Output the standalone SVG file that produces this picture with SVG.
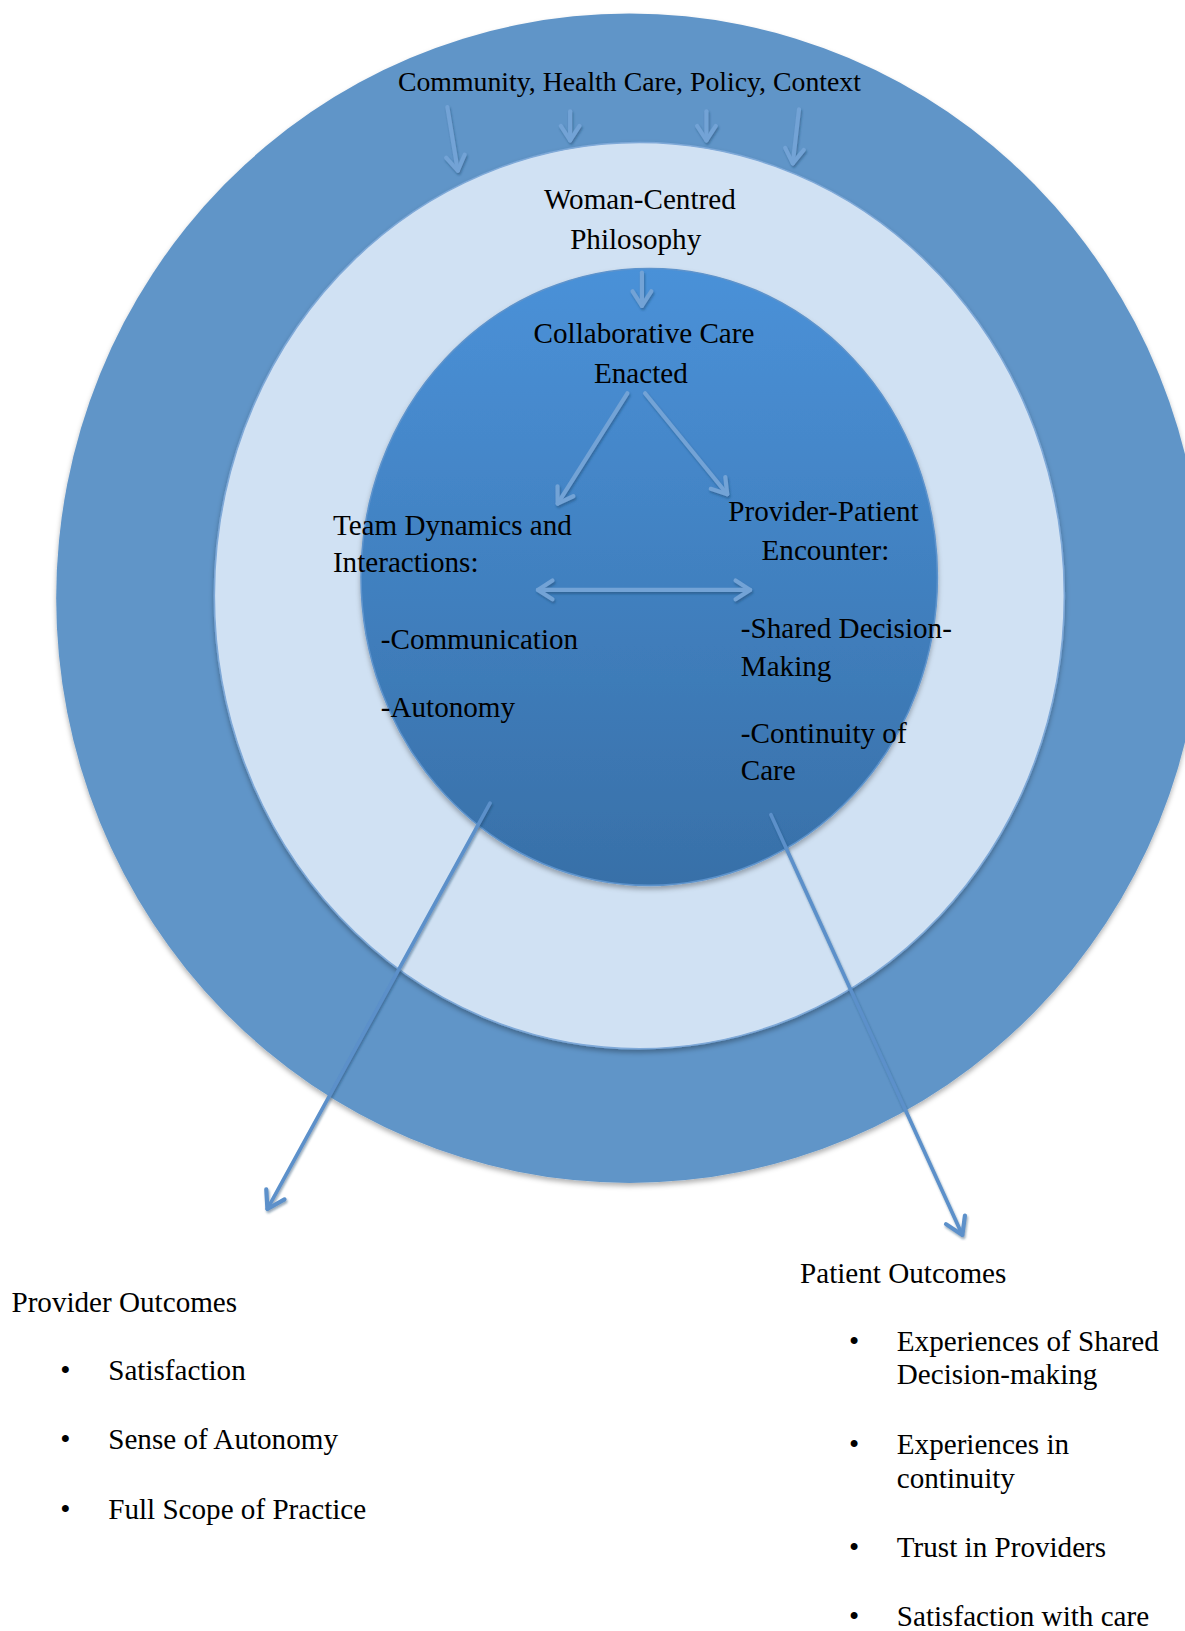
<svg xmlns="http://www.w3.org/2000/svg" width="1185" height="1631" viewBox="0 0 1185 1631">
<style>
text{font-family:"Liberation Serif","Times New Roman",serif;fill:#000;font-size:28px}
.top{font-size:26.7px}
.c{text-anchor:middle}
.arr{fill:none;stroke:#73a3d6;stroke-width:4;stroke-linecap:round}
.long{fill:none;stroke:#5b90ca;stroke-width:3.5;stroke-linecap:round}
</style>
<defs>
<linearGradient id="ig" x1="0" y1="0" x2="0" y2="1">
<stop offset="0" stop-color="#4a91d8"/>
<stop offset="1" stop-color="#3870a8"/>
</linearGradient>
<filter id="sh" x="-10%" y="-10%" width="120%" height="125%">
<feDropShadow dx="0" dy="3" stdDeviation="2.5" flood-color="#000" flood-opacity="0.3"/>
</filter>
<filter id="ash" x="-50%" y="-50%" width="200%" height="200%">
<feDropShadow dx="1" dy="2" stdDeviation="1.2" flood-color="#1d3f66" flood-opacity="0.45"/>
</filter>
<marker id="h1" viewBox="0 0 24 24" refX="20" refY="12" markerWidth="24" markerHeight="24" markerUnits="userSpaceOnUse" orient="auto-start-reverse" overflow="visible">
<path d="M6 3 L20 12 L6 21" fill="none" stroke="#73a3d6" stroke-width="4" stroke-linecap="round" stroke-linejoin="round"/>
</marker>
<marker id="h2" viewBox="0 0 24 24" refX="20" refY="12" markerWidth="24" markerHeight="24" markerUnits="userSpaceOnUse" orient="auto" overflow="visible">
<path d="M4 2 L20 12 L4 22" fill="none" stroke="#5b90ca" stroke-width="4" stroke-linecap="round" stroke-linejoin="round"/>
</marker>
</defs>
<rect width="1185" height="1631" fill="#fff"/>
<g transform="scale(1.0404)">
<g id="outer-ring">
<ellipse cx="605" cy="575" rx="551" ry="562" fill="#6195c8" filter="url(#sh)"/>
<text class="top c" x="605" y="87">Community, Health Care, Policy, Context</text>
</g>
<g id="middle-ring">
<ellipse cx="614.5" cy="572.5" rx="408.5" ry="435.5" fill="#d0e1f3" stroke="#7fa9d8" stroke-width="1.5" filter="url(#sh)"/>
<text class="c" x="615" y="201">Woman-Centred</text>
<text class="c" x="611" y="239">Philosophy</text>
</g>
<g id="inner-circle">
<ellipse cx="624" cy="554.5" rx="277" ry="296.5" fill="url(#ig)" stroke="#5d93cc" stroke-width="1.5" filter="url(#sh)"/>
<text class="c" x="619" y="330">Collaborative Care</text>
<text class="c" x="616" y="368">Enacted</text>
</g>
<g id="team-dynamics">
<text x="320" y="514">Team Dynamics and</text>
<text x="320" y="550">Interactions:</text>
<text x="366" y="624">-Communication</text>
<text x="366" y="689">-Autonomy</text>
</g>
<g id="provider-patient">
<text x="700" y="501">Provider-Patient</text>
<text x="732" y="538">Encounter:</text>
<text x="712" y="613">-Shared Decision-</text>
<text x="712" y="650">Making</text>
<text x="712" y="714">-Continuity of</text>
<text x="712" y="750">Care</text>
</g>
<g id="provider-outcomes">
<text x="11" y="1261">Provider Outcomes</text>
<text x="58" y="1326">•</text><text x="104" y="1326">Satisfaction</text>
<text x="58" y="1393">•</text><text x="104" y="1393">Sense of Autonomy</text>
<text x="58" y="1460">•</text><text x="104" y="1460">Full Scope of Practice</text>
</g>
<g id="patient-outcomes">
<text x="769" y="1233">Patient Outcomes</text>
<text x="816" y="1299">•</text><text x="862" y="1299">Experiences of Shared</text>
<text x="862" y="1330">Decision-making</text>
<text x="816" y="1398">•</text><text x="862" y="1398">Experiences in</text>
<text x="862" y="1430">continuity</text>
<text x="816" y="1497">•</text><text x="862" y="1497">Trust in Providers</text>
<text x="816" y="1563">•</text><text x="862" y="1563">Satisfaction with care</text>
</g>
<g id="connectors" filter="url(#ash)">
<line class="arr" x1="430" y1="103" x2="440" y2="164" marker-end="url(#h1)"/>
<line class="arr" x1="548" y1="107" x2="548" y2="135" marker-end="url(#h1)"/>
<line class="arr" x1="679" y1="107" x2="679" y2="135" marker-end="url(#h1)"/>
<line class="arr" x1="768" y1="105" x2="762" y2="157" marker-end="url(#h1)"/>
<line class="arr" x1="617" y1="262" x2="617" y2="294" marker-end="url(#h1)"/>
<line class="arr" x1="603" y1="378" x2="536" y2="484" marker-end="url(#h1)"/>
<line class="arr" x1="620" y1="378" x2="699" y2="475" marker-end="url(#h1)"/>
<line class="arr" x1="517" y1="567" x2="721" y2="567" marker-start="url(#h1)" marker-end="url(#h1)"/>
<line class="long" x1="471" y1="772" x2="257" y2="1162" marker-end="url(#h2)"/>
<line class="long" x1="741" y1="783" x2="925" y2="1187" marker-end="url(#h2)"/>
</g>
</g>
</svg>
